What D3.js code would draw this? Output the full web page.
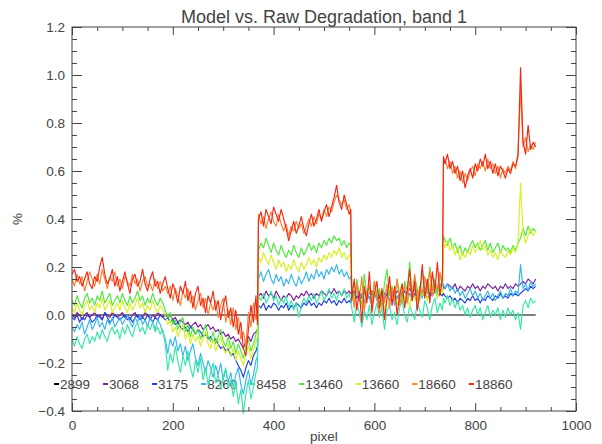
<!DOCTYPE html>
<html>
<head>
<meta charset="utf-8">
<script src="https://cdn.jsdelivr.net/npm/d3@7"></script>
<style>
  body { margin: 0; background: #fff; }
  text { font-family: "Liberation Sans", Arial, sans-serif; }
</style>
</head>
<body>
<svg id="chart" width="602" height="444"></svg>
<script>
// Detector pixel positions at which the runs are sampled
const pixels = [
  0,5,10,15,20,25,30,35,40,45,50,55,60,65,70,75,80,85,90,95,
  100,105,110,115,120,125,130,135,140,145,150,155,160,165,170,175,180,185,
  190,195,200,205,210,215,220,225,230,235,240,245,250,255,260,265,270,275,280,285,
  290,295,300,305,310,315,320,325,330,335,340,345,350,355,360,365,368,
  370,375,380,385,390,395,400,405,410,415,420,425,430,435,440,445,450,455,460,465,
  470,475,480,485,490,495,500,505,510,515,520,525,530,535,540,545,550,553,
  555,560,565,570,575,580,585,590,595,600,605,610,615,620,625,630,635,640,645,650,
  655,660,665,670,675,680,685,690,695,700,705,710,715,720,725,730,735,
  737,740,745,750,755,760,765,770,775,780,785,790,795,800,805,810,815,820,825,830,
  835,840,845,850,855,860,865,870,875,880,885,890,895,900,905,910,915,920
];
// The reference run is flat, so it only needs its end points
const referencePixels = [0, 920];

// Run identifiers (legend order, also drawing order)
const runs = ["2899", "3068", "3175", "8260", "8458", "13460", "13660", "18660", "18860"];
const runColors = ["#000000", "#7a1fa0", "#1f3fe0", "#35b5f0", "#35e8a8", "#4ee83a", "#d8f020", "#ff8030", "#f02818"];

// Degradation difference (%) per run
const d2899 = [0, 0];
const d3068 = [
  0.00,-0.01,0.01,0.00,-0.02,0.00,0.01,-0.01,0.00,0.01,
  -0.01,0.00,-0.02,0.01,0.00,-0.01,0.01,0.00,-0.01,0.00,
  0.01,-0.01,0.00,-0.02,0.00,0.01,-0.01,0.00,-0.01,0.01,
  0.00,-0.02,0.00,-0.01,0.01,0.00,-0.01,0.00,
  -0.01,0.00,-0.02,-0.01,-0.03,-0.02,-0.03,-0.04,-0.03,-0.05,
  -0.04,-0.03,-0.05,-0.04,-0.06,-0.05,-0.04,-0.06,-0.05,-0.07,
  -0.06,-0.08,-0.07,-0.09,-0.08,-0.10,-0.09,-0.11,-0.10,-0.12,
  -0.14,-0.11,-0.09,-0.11,-0.08,-0.07,
  -0.06,
  0.08,0.09,0.07,0.10,0.08,0.09,0.07,0.10,0.08,0.06,
  0.08,0.07,0.09,0.08,0.06,0.08,0.07,0.09,0.08,0.10,
  0.08,0.09,0.07,0.09,0.08,0.10,0.09,0.08,0.10,0.09,
  0.11,0.09,0.10,0.08,0.10,0.09,0.10,
  0.09,
  0.09,0.08,0.10,0.09,0.07,0.10,0.08,0.09,0.10,0.08,
  0.09,0.07,0.10,0.09,0.08,0.10,0.09,0.08,0.10,0.09,
  0.08,0.10,0.09,0.11,0.09,0.08,0.10,0.09,0.10,0.08,
  0.10,0.09,0.11,0.10,0.09,0.11,0.10,
  0.12,
  0.11,0.13,0.12,0.11,0.13,0.10,0.12,0.11,0.10,0.12,
  0.11,0.13,0.11,0.12,0.10,0.12,0.11,0.13,0.12,0.11,
  0.12,0.10,0.12,0.11,0.13,0.11,0.12,0.11,0.13,0.12,
  0.13,0.14,0.13,0.15,0.14,0.13,0.15
];
const d3175 = [
  -0.01,-0.02,0.00,-0.03,-0.01,-0.02,0.00,-0.01,-0.03,-0.02,
  0.00,-0.01,-0.02,0.01,-0.01,-0.03,-0.02,0.00,-0.01,-0.02,
  -0.01,0.00,-0.02,-0.01,-0.03,-0.01,0.00,-0.02,-0.01,-0.02,
  0.00,-0.01,-0.03,-0.01,-0.02,0.00,-0.01,-0.02,
  -0.01,-0.03,-0.02,-0.04,-0.03,-0.05,-0.06,-0.05,-0.07,-0.05,
  -0.06,-0.08,-0.06,-0.07,-0.09,-0.08,-0.10,-0.09,-0.11,-0.10,
  -0.12,-0.14,-0.13,-0.15,-0.14,-0.17,-0.16,-0.19,-0.21,-0.23,
  -0.26,-0.22,-0.19,-0.21,-0.17,-0.15,
  -0.13,
  0.04,0.03,0.05,0.02,0.04,0.03,0.05,0.04,0.02,0.04,
  0.03,0.05,0.02,0.04,0.03,0.05,0.04,0.03,0.05,0.04,
  0.06,0.04,0.05,0.03,0.05,0.04,0.06,0.05,0.07,0.05,
  0.06,0.04,0.06,0.05,0.07,0.05,0.06,
  0.05,
  0.08,0.10,0.07,0.09,0.08,0.10,0.09,0.07,0.09,0.08,
  0.10,0.08,0.09,0.07,0.09,0.10,0.08,0.09,0.07,0.09,
  0.08,0.10,0.08,0.09,0.07,0.09,0.08,0.10,0.08,0.09,
  0.07,0.09,0.08,0.10,0.08,0.09,0.08,
  0.09,
  0.08,0.07,0.08,0.06,0.07,0.05,0.07,0.06,0.05,0.07,
  0.06,0.08,0.06,0.07,0.05,0.07,0.06,0.08,0.07,0.06,
  0.08,0.07,0.09,0.07,0.08,0.07,0.09,0.08,0.09,0.08,
  0.09,0.10,0.11,0.10,0.12,0.11,0.12
];
const d8260 = [
  -0.05,-0.07,-0.04,-0.06,-0.03,-0.08,-0.05,-0.02,-0.06,-0.04,
  -0.01,-0.05,-0.03,-0.06,-0.02,-0.04,-0.01,-0.05,-0.03,-0.01,
  -0.04,-0.02,0.00,-0.03,-0.05,-0.01,-0.03,0.00,-0.04,-0.02,
  -0.05,-0.01,-0.03,-0.06,-0.02,-0.04,-0.07,-0.10,
  -0.16,-0.10,-0.13,-0.09,-0.15,-0.12,-0.17,-0.13,-0.19,-0.15,
  -0.12,-0.18,-0.21,-0.16,-0.20,-0.24,-0.19,-0.22,-0.26,-0.21,
  -0.25,-0.20,-0.27,-0.23,-0.28,-0.24,-0.30,-0.25,-0.22,-0.29,
  -0.33,-0.27,-0.23,-0.29,-0.25,-0.19,
  -0.17,
  0.15,0.18,0.14,0.17,0.19,0.15,0.13,0.17,0.14,0.16,
  0.12,0.15,0.13,0.17,0.14,0.12,0.16,0.13,0.15,0.18,
  0.14,0.17,0.15,0.19,0.16,0.18,0.15,0.19,0.17,0.20,
  0.18,0.21,0.17,0.19,0.16,0.18,0.15,
  0.16,
  0.10,0.07,0.11,0.06,0.09,0.05,0.10,0.07,0.04,0.09,
  0.06,0.10,0.05,0.08,0.11,0.06,0.09,0.04,0.08,0.06,
  0.10,0.07,0.05,0.09,0.06,0.11,0.08,0.10,0.07,0.12,
  0.09,0.11,0.08,0.12,0.10,0.13,0.11,
  0.13,
  0.11,0.13,0.10,0.12,0.09,0.11,0.08,0.10,0.07,0.09,
  0.11,0.08,0.10,0.07,0.09,0.06,0.08,0.10,0.07,0.09,
  0.06,0.08,0.10,0.07,0.09,0.08,0.11,0.08,0.10,0.09,
  0.21,0.11,0.13,0.10,0.14,0.12,0.13
];
const d8458 = [
  -0.10,-0.13,-0.09,-0.12,-0.14,-0.10,-0.08,-0.12,-0.09,-0.11,
  -0.07,-0.10,-0.06,-0.09,-0.11,-0.07,-0.05,-0.08,-0.06,-0.10,
  -0.05,-0.08,-0.04,-0.07,-0.09,-0.05,-0.03,-0.07,-0.05,-0.08,
  -0.04,-0.06,-0.03,-0.07,-0.05,-0.08,-0.06,-0.12,
  -0.23,-0.16,-0.20,-0.13,-0.19,-0.24,-0.17,-0.21,-0.15,-0.22,
  -0.26,-0.19,-0.24,-0.18,-0.27,-0.22,-0.29,-0.24,-0.20,-0.28,
  -0.25,-0.31,-0.26,-0.22,-0.30,-0.27,-0.34,-0.28,-0.37,-0.31,
  -0.41,-0.33,-0.27,-0.35,-0.30,-0.24,
  -0.22,
  0.08,0.06,0.09,0.05,0.07,0.10,0.06,0.08,0.04,0.07,
  0.05,0.08,0.03,0.06,0.02,0.05,-0.01,0.04,0.07,0.05,
  0.08,0.06,0.09,0.05,0.07,0.10,0.06,0.08,0.11,0.07,
  0.09,0.06,0.10,0.08,0.11,0.07,0.09,
  0.06,
  0.03,-0.03,0.05,0.01,-0.05,0.02,-0.02,0.04,-0.04,0.01,
  0.05,-0.01,0.03,-0.06,0.02,0.04,-0.02,0.01,-0.04,0.03,
  0.06,0.00,-0.03,0.04,0.01,-0.02,0.05,0.02,-0.01,0.06,
  0.03,-0.02,0.04,0.07,0.01,0.05,0.02,
  0.07,
  0.05,0.08,0.04,0.07,0.03,0.06,0.02,0.04,0.00,0.03,
  -0.01,0.02,0.04,0.00,0.03,-0.02,0.01,0.04,-0.01,0.02,
  0.00,0.03,-0.02,0.02,-0.01,0.03,0.00,0.02,-0.02,0.01,
  -0.06,0.04,0.06,0.03,0.07,0.05,0.06
];
const d13460 = [
  0.06,0.04,0.08,0.05,0.03,0.07,0.09,0.05,0.07,0.04,
  0.08,0.06,0.10,0.05,0.07,0.09,0.04,0.06,0.08,0.05,
  0.09,0.06,0.04,0.08,0.05,0.07,0.10,0.06,0.08,0.04,
  0.07,0.05,0.09,0.06,0.04,0.07,0.05,0.02,
  -0.01,0.01,-0.04,-0.02,-0.06,-0.03,-0.01,-0.07,-0.04,-0.09,
  -0.05,-0.08,-0.06,-0.10,-0.07,-0.04,-0.09,-0.11,-0.07,-0.12,
  -0.09,-0.06,-0.11,-0.13,-0.09,-0.14,-0.11,-0.16,-0.12,-0.15,
  -0.18,-0.13,-0.10,-0.15,-0.12,-0.08,
  -0.06,
  0.27,0.30,0.28,0.32,0.29,0.26,0.30,0.27,0.25,0.29,
  0.26,0.24,0.27,0.25,0.29,0.26,0.24,0.28,0.25,0.27,
  0.30,0.27,0.29,0.26,0.30,0.28,0.31,0.29,0.32,0.30,
  0.33,0.31,0.32,0.29,0.31,0.28,0.30,
  0.29,
  0.13,0.06,0.15,0.09,0.04,0.17,0.08,0.12,0.05,0.14,
  0.07,0.11,0.03,0.13,0.19,0.08,0.12,0.06,0.15,0.09,
  0.05,0.14,0.10,0.22,0.08,0.16,0.11,0.06,0.18,0.12,
  0.09,0.20,0.11,0.15,0.07,0.17,0.13,
  0.33,
  0.31,0.29,0.32,0.28,0.30,0.26,0.29,0.25,0.28,0.26,
  0.29,0.31,0.28,0.30,0.27,0.29,0.31,0.27,0.30,0.26,
  0.28,0.30,0.26,0.29,0.27,0.28,0.26,0.29,0.27,0.30,
  0.32,0.36,0.33,0.37,0.34,0.36,0.35
];
const d13660 = [
  0.03,0.01,0.05,0.02,0.00,0.04,0.06,0.02,0.04,0.01,
  0.05,0.03,0.07,0.02,0.04,0.06,0.01,0.03,0.05,0.02,
  0.06,0.03,0.01,0.05,0.02,0.04,0.07,0.03,0.05,0.01,
  0.04,0.02,0.06,0.03,0.01,0.04,0.02,0.00,
  -0.04,-0.02,-0.07,-0.05,-0.09,-0.06,-0.04,-0.10,-0.07,-0.12,
  -0.08,-0.11,-0.09,-0.13,-0.10,-0.07,-0.12,-0.14,-0.10,-0.15,
  -0.12,-0.09,-0.14,-0.16,-0.12,-0.17,-0.14,-0.19,-0.15,-0.18,
  -0.21,-0.16,-0.13,-0.18,-0.15,-0.11,
  -0.09,
  0.24,0.22,0.26,0.23,0.21,0.25,0.22,0.19,0.23,0.20,
  0.22,0.18,0.21,0.19,0.23,0.20,0.18,0.22,0.19,0.21,
  0.24,0.21,0.23,0.20,0.24,0.22,0.25,0.23,0.26,0.24,
  0.27,0.25,0.28,0.24,0.26,0.23,0.25,
  0.24,
  0.09,0.05,0.12,0.07,0.03,0.10,0.06,0.13,0.04,0.08,
  0.11,0.05,0.09,0.02,0.07,0.12,0.06,0.10,0.04,0.08,
  0.13,0.06,0.09,0.03,0.11,0.07,0.05,0.12,0.08,0.10,
  0.06,0.13,0.09,0.11,0.07,0.12,0.09,
  0.30,
  0.28,0.31,0.27,0.29,0.25,0.28,0.23,0.26,0.24,0.27,
  0.25,0.29,0.26,0.28,0.31,0.27,0.29,0.25,0.27,0.24,
  0.26,0.23,0.27,0.25,0.24,0.27,0.25,0.28,0.26,0.30,
  0.55,0.34,0.30,0.33,0.36,0.33,0.35
];
const d18660 = [
  0.15,0.12,0.17,0.13,0.16,0.10,0.14,0.18,0.15,0.12,
  0.17,0.13,0.19,0.15,0.11,0.16,0.14,0.18,0.12,0.15,
  0.11,0.16,0.14,0.12,0.17,0.13,0.15,0.10,0.14,0.16,
  0.12,0.13,0.10,0.15,0.11,0.14,0.10,0.12,
  0.09,0.12,0.06,0.11,0.08,0.04,0.10,0.07,0.11,0.05,
  0.08,0.02,0.06,0.09,0.03,0.07,0.00,0.05,0.02,0.06,
  -0.01,0.04,0.07,-0.03,0.02,-0.04,0.03,-0.06,-0.01,-0.10,
  -0.07,-0.13,0.01,-0.05,0.05,-0.02,
  0.02,
  0.42,0.38,0.41,0.36,0.40,0.43,0.39,0.37,0.42,0.38,
  0.35,0.38,0.33,0.37,0.35,0.39,0.36,0.38,0.34,0.37,
  0.40,0.37,0.41,0.38,0.42,0.40,0.44,0.41,0.45,0.43,
  0.47,0.50,0.48,0.46,0.48,0.44,0.46,
  0.43,
  0.11,0.03,0.13,0.06,0.16,0.02,0.09,0.12,0.04,0.14,
  0.07,0.01,0.10,0.05,0.13,0.03,0.11,0.06,0.15,0.04,
  0.09,0.12,0.05,0.14,0.08,0.17,0.06,0.12,0.09,0.16,
  0.10,0.19,0.08,0.14,0.11,0.18,0.12,
  0.63,
  0.65,0.61,0.64,0.59,0.62,0.57,0.60,0.55,0.59,0.56,
  0.60,0.62,0.58,0.63,0.61,0.64,0.60,0.65,0.61,0.63,
  0.59,0.62,0.57,0.61,0.59,0.62,0.60,0.64,0.61,0.68,
  0.94,0.70,0.74,0.68,0.71,0.69,0.72
];
const d18860 = [
  0.17,0.19,0.14,0.16,0.12,0.15,0.18,0.13,0.11,0.16,
  0.14,0.20,0.24,0.17,0.13,0.15,0.19,0.12,0.16,0.10,
  0.14,0.18,0.13,0.09,0.15,0.17,0.12,0.14,0.19,0.13,
  0.10,0.15,0.18,0.12,0.14,0.09,0.13,0.16,
  0.11,0.07,0.13,0.10,0.05,0.12,0.09,0.14,0.06,0.10,
  0.03,0.09,0.12,0.04,0.07,0.01,0.08,0.05,0.10,0.02,
  0.06,-0.02,0.04,0.08,-0.01,0.03,-0.05,0.02,-0.08,-0.03,
  -0.14,-0.17,-0.06,0.04,-0.03,0.08,
  -0.04,
  0.40,0.43,0.37,0.44,0.41,0.38,0.45,0.42,0.39,0.44,
  0.40,0.36,0.31,0.35,0.39,0.34,0.37,0.41,0.36,0.33,
  0.38,0.42,0.37,0.40,0.44,0.39,0.43,0.46,0.41,0.45,
  0.49,0.54,0.47,0.44,0.50,0.46,0.42,
  0.44,
  0.06,0.15,0.02,0.10,-0.03,0.12,0.05,0.18,0.01,0.09,
  0.14,0.03,0.11,-0.02,0.07,0.16,0.04,0.12,0.00,0.08,
  0.13,0.03,0.10,0.19,0.06,0.14,0.02,0.09,0.21,0.07,
  0.15,0.05,0.18,0.10,0.22,0.08,0.16,
  0.66,
  0.63,0.67,0.61,0.64,0.59,0.62,0.56,0.60,0.53,0.58,
  0.61,0.57,0.63,0.60,0.65,0.62,0.67,0.61,0.64,0.59,
  0.63,0.58,0.62,0.60,0.57,0.61,0.59,0.63,0.62,0.66,
  1.03,0.72,0.67,0.79,0.69,0.72,0.70
];
const runValues = [d2899, d3068, d3175, d8260, d8458, d13460, d13660, d18660, d18860];
const runPixels = [referencePixels, pixels, pixels, pixels, pixels, pixels, pixels, pixels, pixels];

runValues.forEach((v, k) => {
  if (v.length !== runPixels[k].length) throw new Error(`run ${runs[k]}: ${v.length} values for ${runPixels[k].length} pixels`);
});

// Axis ticks
const xTicks = [0, 200, 400, 600, 800, 1000];
const xMinorTicks = [50, 100, 150, 250, 300, 350, 450, 500, 550, 650, 700, 750, 850, 900, 950];
const yTicks = [-0.4, -0.2, 0.0, 0.2, 0.4, 0.6, 0.8, 1.0, 1.2];
const yMinorTicks = [-0.35, -0.3, -0.25, -0.15, -0.1, -0.05, 0.05, 0.1, 0.15, 0.25, 0.3, 0.35,
  0.45, 0.5, 0.55, 0.65, 0.7, 0.75, 0.85, 0.9, 0.95, 1.05, 1.1, 1.15];

const chartTitle = "Model vs. Raw Degradation, band 1";
const xTitle = "pixel";
const yTitle = "%";

// ---- drawing ----
const svg = d3.select("#chart");
const plotLeft = 72, plotRight = 576, plotTop = 27, plotBottom = 411;
const ink = "#444";

const x = d3.scaleLinear().domain([0, 1000]).range([plotLeft, plotRight]);
const y = d3.scaleLinear().domain([-0.4, 1.2]).range([plotBottom, plotTop]);

// Legend row (drawn first, the curves pass over it): colored dash followed by run number
const legend = svg.append("g");
let cursor = 54;
const legendY = 384;
runs.forEach((name, k) => {
  legend.append("rect")
    .attr("x", cursor).attr("y", legendY - 1)
    .attr("width", 5).attr("height", 2)
    .attr("fill", runColors[k]);
  const t = legend.append("text")
    .attr("x", cursor + 6).attr("y", legendY + 5)
    .attr("fill", ink)
    .style("font-size", "13.5px")
    .text(name);
  cursor += 6 + t.node().getComputedTextLength() + 13;
});

const plot = svg.append("g");

runValues.forEach((vals, k) => {
  const px = runPixels[k];
  const line = d3.line().x((d, i) => x(px[i])).y(d => y(d));
  plot.append("path")
    .datum(vals)
    .attr("fill", "none")
    .attr("stroke", runColors[k])
    .attr("stroke-width", 1.15)
    .attr("stroke-linejoin", "round")
    .attr("d", line);
});

// Frame with inward ticks on all four sides
function styleAxis(g) {
  g.select(".domain").remove();
  g.selectAll(".tick line").attr("stroke", ink);
  g.selectAll(".tick text").attr("fill", ink).style("font-size", "13.5px")
    .style("font-family", '"Liberation Sans", Arial, sans-serif');
}
const fmt = d3.format(".1f");

svg.append("g").attr("transform", `translate(0,${plotBottom})`)
  .call(d3.axisBottom(x).tickValues(xTicks).tickSizeInner(-8).tickSizeOuter(0).tickPadding(9).tickFormat(d3.format("d")))
  .call(styleAxis);
svg.append("g").attr("transform", `translate(0,${plotBottom})`)
  .call(d3.axisBottom(x).tickValues(xMinorTicks).tickSizeInner(-4).tickSizeOuter(0).tickFormat(""))
  .call(styleAxis);
svg.append("g").attr("transform", `translate(0,${plotTop})`)
  .call(d3.axisTop(x).tickValues(xTicks).tickSizeInner(-8).tickSizeOuter(0).tickFormat(""))
  .call(styleAxis);
svg.append("g").attr("transform", `translate(0,${plotTop})`)
  .call(d3.axisTop(x).tickValues(xMinorTicks).tickSizeInner(-4).tickSizeOuter(0).tickFormat(""))
  .call(styleAxis);

svg.append("g").attr("transform", `translate(${plotLeft},0)`)
  .call(d3.axisLeft(y).tickValues(yTicks).tickSizeInner(-10).tickSizeOuter(0).tickPadding(7).tickFormat(fmt))
  .call(styleAxis);
svg.append("g").attr("transform", `translate(${plotLeft},0)`)
  .call(d3.axisLeft(y).tickValues(yMinorTicks).tickSizeInner(-5).tickSizeOuter(0).tickFormat(""))
  .call(styleAxis);
svg.append("g").attr("transform", `translate(${plotRight},0)`)
  .call(d3.axisRight(y).tickValues(yTicks).tickSizeInner(-10).tickSizeOuter(0).tickFormat(""))
  .call(styleAxis);
svg.append("g").attr("transform", `translate(${plotRight},0)`)
  .call(d3.axisRight(y).tickValues(yMinorTicks).tickSizeInner(-5).tickSizeOuter(0).tickFormat(""))
  .call(styleAxis);

svg.append("rect")
  .attr("x", plotLeft).attr("y", plotTop)
  .attr("width", plotRight - plotLeft).attr("height", plotBottom - plotTop)
  .attr("fill", "none").attr("stroke", ink).attr("stroke-width", 1);

// Titles
svg.append("text")
  .attr("x", (plotLeft + plotRight) / 2).attr("y", 23)
  .attr("text-anchor", "middle").attr("fill", ink)
  .style("font-size", "18px")
  .text(chartTitle);
svg.append("text")
  .attr("x", (plotLeft + plotRight) / 2).attr("y", 441)
  .attr("text-anchor", "middle").attr("fill", ink)
  .style("font-size", "13.5px")
  .text(xTitle);
svg.append("text")
  .attr("transform", `translate(22,${(plotTop + plotBottom) / 2}) rotate(-90)`)
  .attr("text-anchor", "middle").attr("fill", ink)
  .style("font-size", "13.5px")
  .text(yTitle);
</script>
</body>
</html>
